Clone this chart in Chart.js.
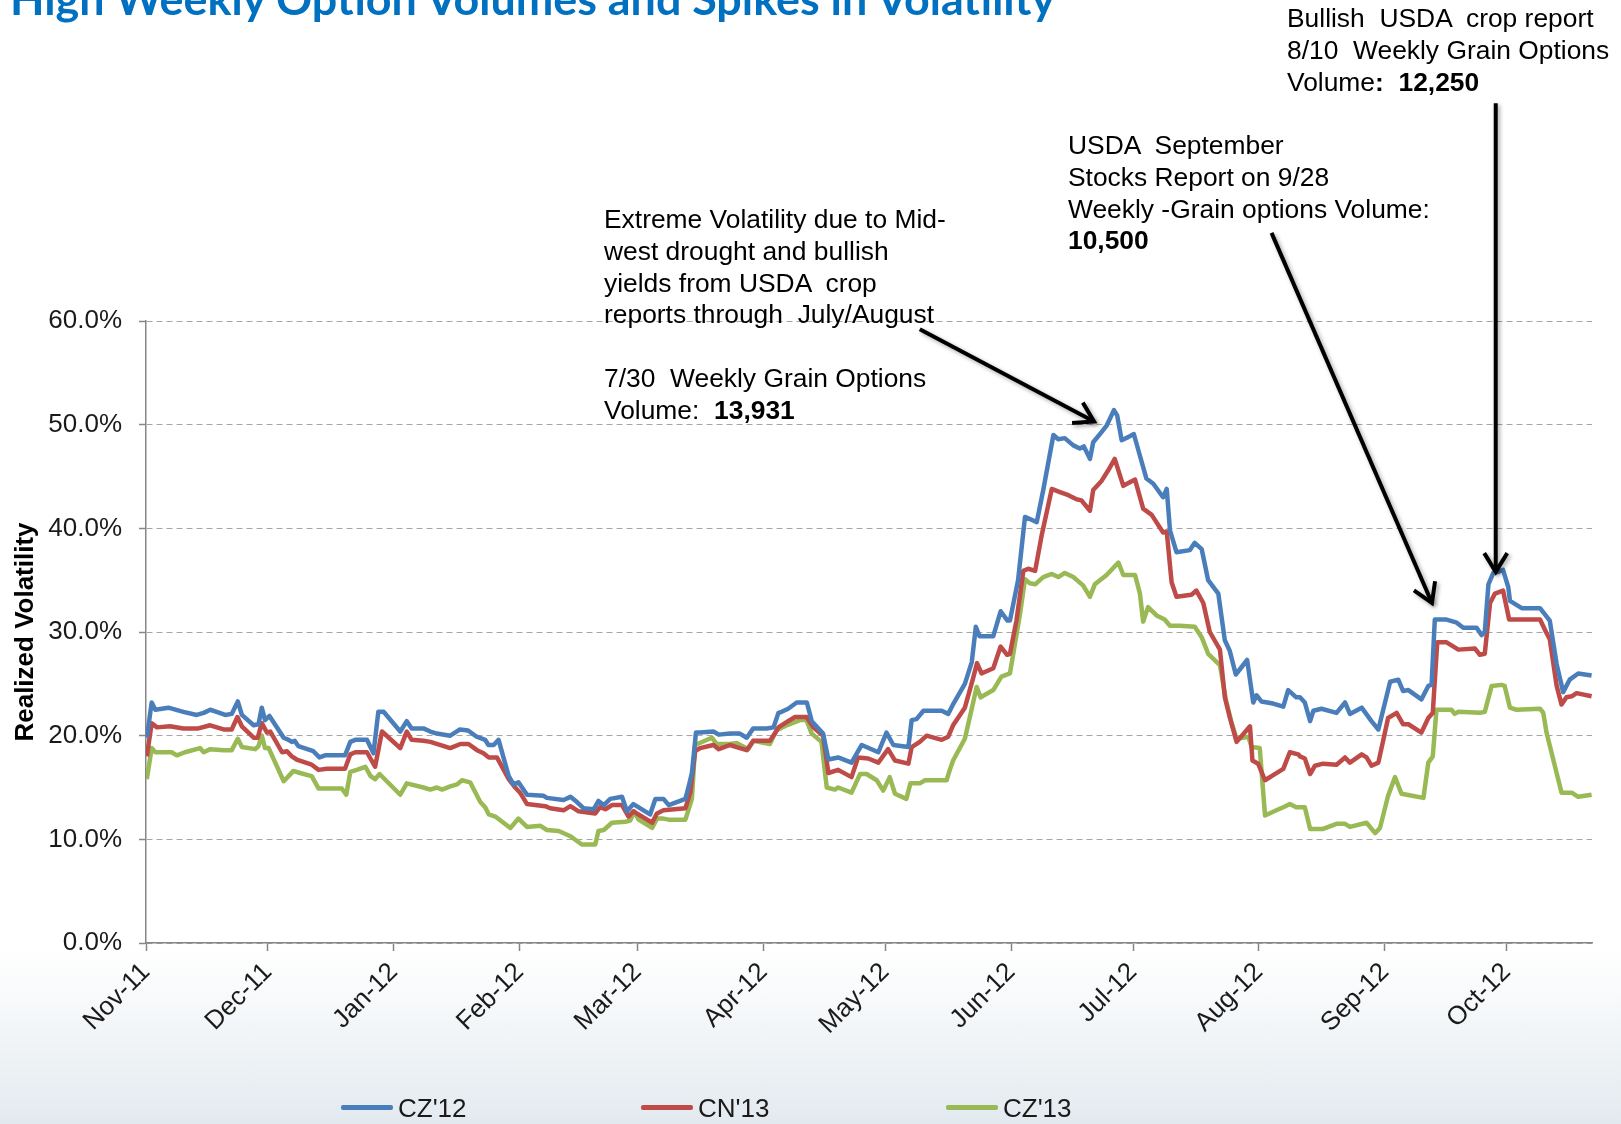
<!DOCTYPE html>
<html>
<head>
<meta charset="utf-8">
<script src="https://cdn.jsdelivr.net/npm/chart.js@4/dist/chart.umd.min.js"></script>
<style>
html,body{margin:0;padding:0;width:1621px;height:1124px;overflow:hidden;background:#fff;}
#bg{position:absolute;left:0;top:0;width:1621px;height:1124px;background:linear-gradient(to bottom,#ffffff 0px,#ffffff 950px,#e3eaef 1124px);}
#c{position:absolute;left:0;top:0;}
.title{position:absolute;left:10px;top:-24px;font-family:Lato,"Open Sans",sans-serif;font-weight:700;font-size:44px;line-height:1;color:#0070c0;white-space:nowrap;}
.note{position:absolute;font-family:"Liberation Sans",Arial,sans-serif;font-size:26.4px;line-height:31.8px;color:#000;white-space:pre;}
.note b{font-weight:700;}
.leg{position:absolute;top:1092px;height:32px;font-family:"Liberation Sans",Arial,sans-serif;font-size:26px;color:#1a1a1a;white-space:nowrap;}
.leg span.ln{position:absolute;left:0;top:13px;width:52px;height:5px;border-radius:2px;}
.leg span.tx{position:absolute;left:57px;top:0;line-height:32px;}
</style>
</head>
<body>
<div id="bg"></div>
<canvas id="c" width="1621" height="1124"></canvas>
<div class="title" id="title">High Weekly Option Volumes and Spikes in Volatility</div>
<div class="note" style="left:604px;top:204px;">Extreme Volatility due to Mid-
west drought and bullish
yields from USDA  crop
reports through  July/August

7/30  Weekly Grain Options
Volume:  <b>13,931</b></div>
<div class="note" style="left:1068px;top:130px;">USDA  September
Stocks Report on 9/28
Weekly -Grain options Volume:
<b>10,500</b></div>
<div class="note" style="left:1287px;top:3px;">Bullish  USDA  crop report
8/10  Weekly Grain Options
Volume<b>:  12,250</b></div>
<div id="legend"></div>
<script>
// ---- Data (x = days since 1-Nov-2011, y = realized volatility in %) ----
const seriesLabels = ["CZ'12", "CN'13", "CZ'13"];

const cz12Days = [0.2,1.4,2.3,5.5,9.2,12.5,14.2,15.8,17.4,19.5,21.1,22.6,23.6,26.5,27.7,28.5,29.3,30.4,33.9,35.1,35.9,36.6,37.5,41.2,42.7,44.1,49.0,50.3,51.5,54.4,56.0,57.2,58.5,62.6,64.2,65.4,68.3,70.0,71.6,74.9,77.3,79.3,81.4,83.5,84.3,85.6,86.8,89.3,90.5,91.7,93.8,97.9,98.7,102.8,104.5,106.1,107.7,110.2,111.4,112.7,114.3,117.2,118.4,120.0,124.1,125.4,127.4,128.7,132.8,133.6,134.4,135.4,136.4,139.7,141.0,143.8,146.2,147.9,149.5,152.8,154.5,155.7,156.5,158.1,160.2,162.7,163.9,166.7,168.0,170.4,173.7,176.2,180.3,182.3,184.0,187.7,188.5,189.7,191.4,195.9,197.5,198.8,201.6,203.3,204.3,205.2,208.6,210.4,212.1,212.7,214.7,216.4,217.6,219.3,220.9,223.4,224.6,226.2,228.3,229.9,230.9,232.4,233.2,235.3,236.5,238.3,239.1,240.2,241.8,243.2,244.7,246.3,248.0,250.4,251.3,252.1,253.7,257.0,258.2,259.9,261.5,264.0,265.6,266.8,268.3,271.1,272.6,273.4,274.6,277.5,280.0,281.2,283.2,284.1,285.3,286.6,287.4,289.4,293.1,295.2,296.4,299.3,301.7,303.4,306.3,308.3,309.5,310.8,314.0,315.7,316.5,317.3,320.2,322.7,324.3,327.6,328.8,329.6,330.5,331.7,332.9,334.1,335.4,335.8,338.7,343.2,344.4,345.6,347.3,348.9,350.5,352.6,355.9];
const cz12Vals = [19.8,23.2,22.5,22.7,22.3,22.0,22.2,22.5,22.3,22.0,22.1,23.3,22.0,21.0,21.1,22.7,21.5,21.9,19.8,19.6,19.4,19.5,19.0,18.5,17.9,18.1,18.1,19.4,19.6,19.6,18.3,22.3,22.3,20.4,21.4,20.7,20.7,20.4,20.2,20.0,20.6,20.5,19.9,19.6,19.1,19.1,19.6,16.1,15.3,15.5,14.3,14.2,14.0,13.8,14.1,13.6,13.0,12.9,13.7,13.3,13.9,14.1,12.7,13.4,12.4,13.9,13.9,13.3,13.9,15.1,16.4,20.3,20.3,20.4,20.1,20.2,20.2,19.8,20.7,20.7,20.8,22.2,22.3,22.6,23.2,23.2,21.4,20.2,17.7,17.9,17.4,19.1,18.4,20.3,19.1,18.9,21.5,21.6,22.4,22.4,22.1,23.1,25.0,27.1,30.5,29.6,29.6,32.0,31.1,31.1,35.0,41.1,40.9,40.6,43.7,49.0,48.6,48.7,48.0,47.7,47.9,46.7,48.3,49.3,49.9,51.4,50.9,48.5,48.8,49.1,47.0,44.8,44.3,43.0,43.8,39.8,37.7,37.9,38.6,38.0,35.0,33.7,29.2,28.2,25.9,27.3,23.2,23.9,23.3,23.1,22.8,24.4,23.7,23.7,23.2,21.4,22.4,22.6,22.2,23.2,22.1,22.7,21.4,20.6,25.2,25.4,24.3,24.4,23.5,24.8,24.9,31.2,31.2,30.9,30.4,30.4,29.7,30.0,34.6,35.7,35.8,36.0,34.3,33.0,32.3,32.3,31.7,31.1,26.9,24.2,25.4,26.0,25.8];

const cn13Days = [0.2,1.4,2.7,5.9,9.2,12.9,15.8,19.1,21.1,22.5,23.6,26.5,27.5,28.5,29.8,30.6,33.5,34.7,35.9,37.1,40.8,42.5,44.5,49.0,50.3,51.5,54.4,56.4,58.1,62.6,64.2,65.4,68.3,70.0,74.9,77.4,79.4,81.5,83.1,84.4,86.4,89.3,90.9,92.1,93.8,98.3,99.5,102.8,104.5,106.5,110.6,111.8,113.1,114.7,117.2,118.8,120.0,124.6,125.8,127.4,132.8,134.0,135.2,136.4,139.7,141.0,143.8,145.4,147.9,149.5,153.6,154.8,155.7,157.7,159.8,162.6,164.3,166.7,168.0,170.4,173.7,175.3,177.8,180.3,182.7,184.4,187.7,188.5,190.5,192.2,195.9,197.5,198.7,201.6,203.6,204.6,205.7,208.6,210.4,212.0,212.7,214.3,216.0,217.2,218.9,220.5,223.0,225.0,227.1,229.1,230.3,232.4,233.2,235.3,236.9,238.5,240.6,243.5,245.5,247.6,250.4,251.3,252.5,253.7,257.4,258.6,260.3,261.9,264.4,265.6,266.8,268.5,271.8,272.4,273.8,275.5,277.5,280.0,281.6,283.7,284.1,285.3,286.6,287.8,289.8,293.1,295.2,296.4,299.3,300.5,301.7,303.4,305.8,307.9,309.5,310.8,314.0,315.7,316.8,317.9,320.2,323.1,327.2,328.4,329.6,330.9,332.1,334.1,335.6,338.2,343.2,344.8,345.6,347.3,348.5,349.7,351.0,352.2,355.9];
const cn13Vals = [18.0,21.2,20.8,20.9,20.7,20.7,21.0,20.6,20.6,21.8,20.9,19.8,19.8,21.2,20.3,20.4,18.4,18.5,18.0,17.7,17.2,16.7,16.8,16.8,18.2,18.4,18.4,17.0,20.4,18.8,20.4,19.6,19.5,19.4,18.8,19.2,19.2,18.6,18.3,17.9,17.9,15.8,15.0,14.5,13.4,13.2,13.0,12.8,13.2,12.7,12.5,13.1,12.9,13.3,13.3,12.2,12.7,11.6,12.5,12.8,13.0,14.5,18.5,18.8,19.1,18.7,19.1,18.9,18.6,19.5,19.5,20.2,20.8,21.3,21.8,21.8,20.8,20.0,16.4,16.7,16.0,17.9,17.8,17.4,18.7,17.6,17.3,18.9,19.4,20.0,19.6,19.9,21.0,22.7,25.5,27.0,26.0,26.5,28.6,27.8,27.9,31.1,35.9,36.1,35.9,39.3,43.8,43.5,43.2,42.8,42.7,41.7,43.7,44.6,45.6,46.7,44.1,44.7,41.9,41.3,39.6,39.7,34.8,33.4,33.6,34.0,32.8,30.0,28.3,23.7,21.8,19.4,20.9,17.6,17.3,15.7,16.2,16.8,18.4,18.2,18.0,17.8,16.3,17.1,17.3,17.2,17.9,17.4,18.2,17.9,17.1,17.4,21.7,22.2,21.1,21.1,20.3,21.7,22.2,29.0,29.0,28.3,28.4,27.8,27.9,32.8,33.7,34.0,31.2,31.2,31.2,29.9,29.3,24.8,23.0,23.7,23.8,24.1,23.8];

const cz13Days = [0.2,1.4,2.3,6.3,7.6,9.6,13.3,14.2,15.8,19.1,21.1,22.6,23.6,26.9,27.7,28.5,29.3,30.2,33.9,35.1,36.3,37.9,40.8,42.5,44.5,48.2,49.3,50.3,51.9,54.0,55.3,56.4,57.5,62.6,64.2,68.3,70.0,71.6,72.9,74.9,76.6,77.8,79.8,82.3,83.5,84.4,86.0,89.7,91.7,93.8,97.1,98.7,101.6,104.5,107.3,110.6,111.4,112.7,114.7,118.0,119.2,120.2,121.3,124.6,125.8,127.4,128.7,132.8,134.4,135.2,139.3,140.5,143.8,145.4,148.3,149.5,153.6,155.2,157.7,161.0,162.6,163.9,166.3,167.6,169.6,170.4,173.7,175.8,177.4,179.9,181.5,183.1,184.4,187.2,188.2,190.5,191.8,197.1,197.9,198.7,201.6,203.0,204.5,205.5,208.6,210.6,212.7,215.2,216.4,217.6,218.9,220.9,223.0,224.6,226.2,228.3,230.7,232.4,233.6,236.5,239.4,240.6,243.5,244.7,245.5,246.7,248.8,250.8,252.1,254.5,258.2,259.9,261.5,264.4,265.9,267.3,268.5,271.4,272.2,274.2,275.5,278.3,280.0,281.6,283.2,285.3,286.6,289.8,293.1,295.2,296.4,300.5,302.6,303.8,305.8,307.5,309.1,310.4,314.5,315.7,316.8,317.7,321.4,322.2,323.1,328.4,329.6,331.3,333.7,334.5,335.8,337.4,343.2,344.0,344.8,348.5,351.0,352.6,355.9];
const cz13Vals = [15.8,18.8,18.4,18.4,18.1,18.4,18.8,18.4,18.7,18.6,18.6,19.7,18.9,18.7,19.0,20.0,18.8,18.8,15.6,16.1,16.6,16.4,16.1,14.9,14.9,14.9,14.3,16.5,16.7,17.0,16.1,15.8,16.3,14.3,15.4,15.0,14.8,15.0,14.8,15.1,15.3,15.7,15.5,13.6,13.1,12.4,12.2,11.1,12.0,11.2,11.3,10.9,10.8,10.3,9.5,9.5,10.8,10.9,11.6,11.7,11.8,12.7,11.9,11.1,12.0,12.0,11.9,11.9,13.9,19.1,19.8,19.2,19.2,19.3,18.7,19.5,19.2,20.5,21.0,21.5,21.5,20.2,19.4,15.0,14.8,15.0,14.5,16.3,16.3,15.7,14.7,16.0,14.4,13.9,15.4,15.4,15.7,15.7,16.7,17.6,19.7,22.1,24.7,23.7,24.4,25.7,26.0,31.8,35.1,34.7,34.6,35.3,35.6,35.3,35.7,35.3,34.5,33.4,34.6,35.5,36.7,35.5,35.5,33.7,31.0,32.4,31.6,31.2,30.6,30.6,30.5,29.5,27.9,26.8,23.4,21.2,19.7,19.9,18.9,18.8,12.3,12.8,13.1,13.4,13.1,13.1,11.0,11.0,11.5,11.5,11.2,11.6,10.6,11.1,14.2,16.0,14.4,14.3,14.0,17.4,18.0,22.5,22.5,22.1,22.3,22.2,22.3,24.8,24.9,24.8,22.7,22.5,22.6,22.2,20.3,14.5,14.5,14.1,14.3];

// Axis ticks
const monthLabels = ['Nov-11','Dec-11','Jan-12','Feb-12','Mar-12','Apr-12','May-12','Jun-12','Jul-12','Aug-12','Sep-12','Oct-12'];
const yTickValues = [0,10,20,30,40,50,60];

// Annotation arrows, in data units [day, %]
const arrowFrom = [[190.5,59.2],[277.1,68.5],[332.3,81.0]];
const arrowTo   = [[233.4,50.3],[316.6,32.8],[332.3,35.8]];

// ---- Build ----
const DAY0 = Date.UTC(2011,10,1);
const monthDays = monthLabels.map((_,i)=> (Date.UTC(2011,10+i,1)-DAY0)/864e5);
const colors = ['#4a7ebb','#be4b48','#98b954'];
const FONT = '"Liberation Sans", Arial, sans-serif';

function pts(days, vals){ return days.map((d,i)=>({x:d, y:vals[i]})); }

// Title size fit
(function(){
  const t = document.getElementById('title');
  const cv = document.createElement('canvas').getContext('2d');
  cv.font = '700 44px Lato, "Open Sans", sans-serif';
  const w = cv.measureText(t.textContent).width;
  t.style.fontSize = (44*1050/w).toFixed(2)+'px';
})();

const arrowPlugin = {
  id:'arrows',
  afterDraw(chart){
    const {ctx, scales:{x,y}} = chart;
    ctx.save();
    ctx.strokeStyle = '#000';
    ctx.lineWidth = 4;
    ctx.lineJoin = 'miter';
    ctx.shadowColor = 'rgba(0,0,0,0.35)';
    ctx.shadowBlur = 4;
    ctx.shadowOffsetX = 2;
    ctx.shadowOffsetY = 2;
    arrowFrom.forEach((f,i)=>{
      const t = arrowTo[i];
      const x1 = x.getPixelForValue(f[0]), y1 = y.getPixelForValue(f[1]);
      const x2 = x.getPixelForValue(t[0]), y2 = y.getPixelForValue(t[1]);
      ctx.beginPath(); ctx.moveTo(x1,y1); ctx.lineTo(x2,y2); ctx.stroke();
      const a = Math.atan2(y2-y1, x2-x1), L = 22, s = 0.55;
      ctx.beginPath();
      ctx.moveTo(x2 - L*Math.cos(a-s), y2 - L*Math.sin(a-s));
      ctx.lineTo(x2, y2);
      ctx.lineTo(x2 - L*Math.cos(a+s), y2 - L*Math.sin(a+s));
      ctx.stroke();
    });
    ctx.restore();
  }
};

const chart = new Chart(document.getElementById('c'), {
  type:'line',
  data:{
    datasets:[
      {label:seriesLabels[0], data:pts(cz12Days,cz12Vals), borderColor:colors[0]},
      {label:seriesLabels[1], data:pts(cn13Days,cn13Vals), borderColor:colors[1]},
      {label:seriesLabels[2], data:pts(cz13Days,cz13Vals), borderColor:colors[2]}
    ].map(d=>Object.assign(d,{borderWidth:4.5, pointRadius:0, tension:0, fill:false, borderJoinStyle:'round'}))
  },
  options:{
    responsive:false,
    animation:false,
    events:[],
    layout:{padding:{top:321,right:29,bottom:0,left:0}},
    plugins:{legend:{display:false}, tooltip:{enabled:false}, title:{display:false}},
    scales:{
      x:{
        type:'linear', min:0, max:356,
        afterBuildTicks:(s)=>{ s.ticks = monthDays.map(v=>({value:v})); },
        afterFit:(s)=>{ s.height = 181; },
        ticks:{autoSkip:false, minRotation:45, maxRotation:45, padding:6,
               callback:(v,i)=>monthLabels[i], color:'#1a1a1a', font:{family:FONT, size:26}},
        grid:{display:true, drawOnChartArea:false, drawTicks:true, tickLength:8, tickColor:'#868686', tickWidth:1.5},
        border:{display:true, color:'#868686', width:1.5}
      },
      y:{
        min:0, max:60,
        afterBuildTicks:(s)=>{ s.ticks = yTickValues.map(v=>({value:v})); },
        afterFit:(s)=>{ s.width = 146; },
        ticks:{padding:17, callback:(v)=>v.toFixed(1)+'%', color:'#1a1a1a', font:{family:FONT, size:26}},
        grid:{color:'#a6a6a6', lineWidth:1, tickLength:7, tickColor:'#868686', tickWidth:1.5, tickBorderDash:[]},
        border:{display:true, color:'#868686', width:1.5, dash:[6,4]},
        title:{display:true, text:'Realized Volatility', color:'#000', padding:{top:10,bottom:0},
               font:{family:FONT, size:26, weight:'bold'}}
      }
    }
  },
  plugins:[arrowPlugin]
});

// Legend built from datasets
(function(){
  const lx = [341, 641, 946];
  const host = document.getElementById('legend');
  chart.data.datasets.forEach((d,i)=>{
    const el = document.createElement('div');
    el.className = 'leg';
    el.style.left = lx[i]+'px';
    el.innerHTML = '<span class="ln" style="background:'+d.borderColor+'"></span><span class="tx"></span>';
    el.querySelector('.tx').textContent = d.label;
    host.appendChild(el);
  });
})();
</script>
</body>
</html>
